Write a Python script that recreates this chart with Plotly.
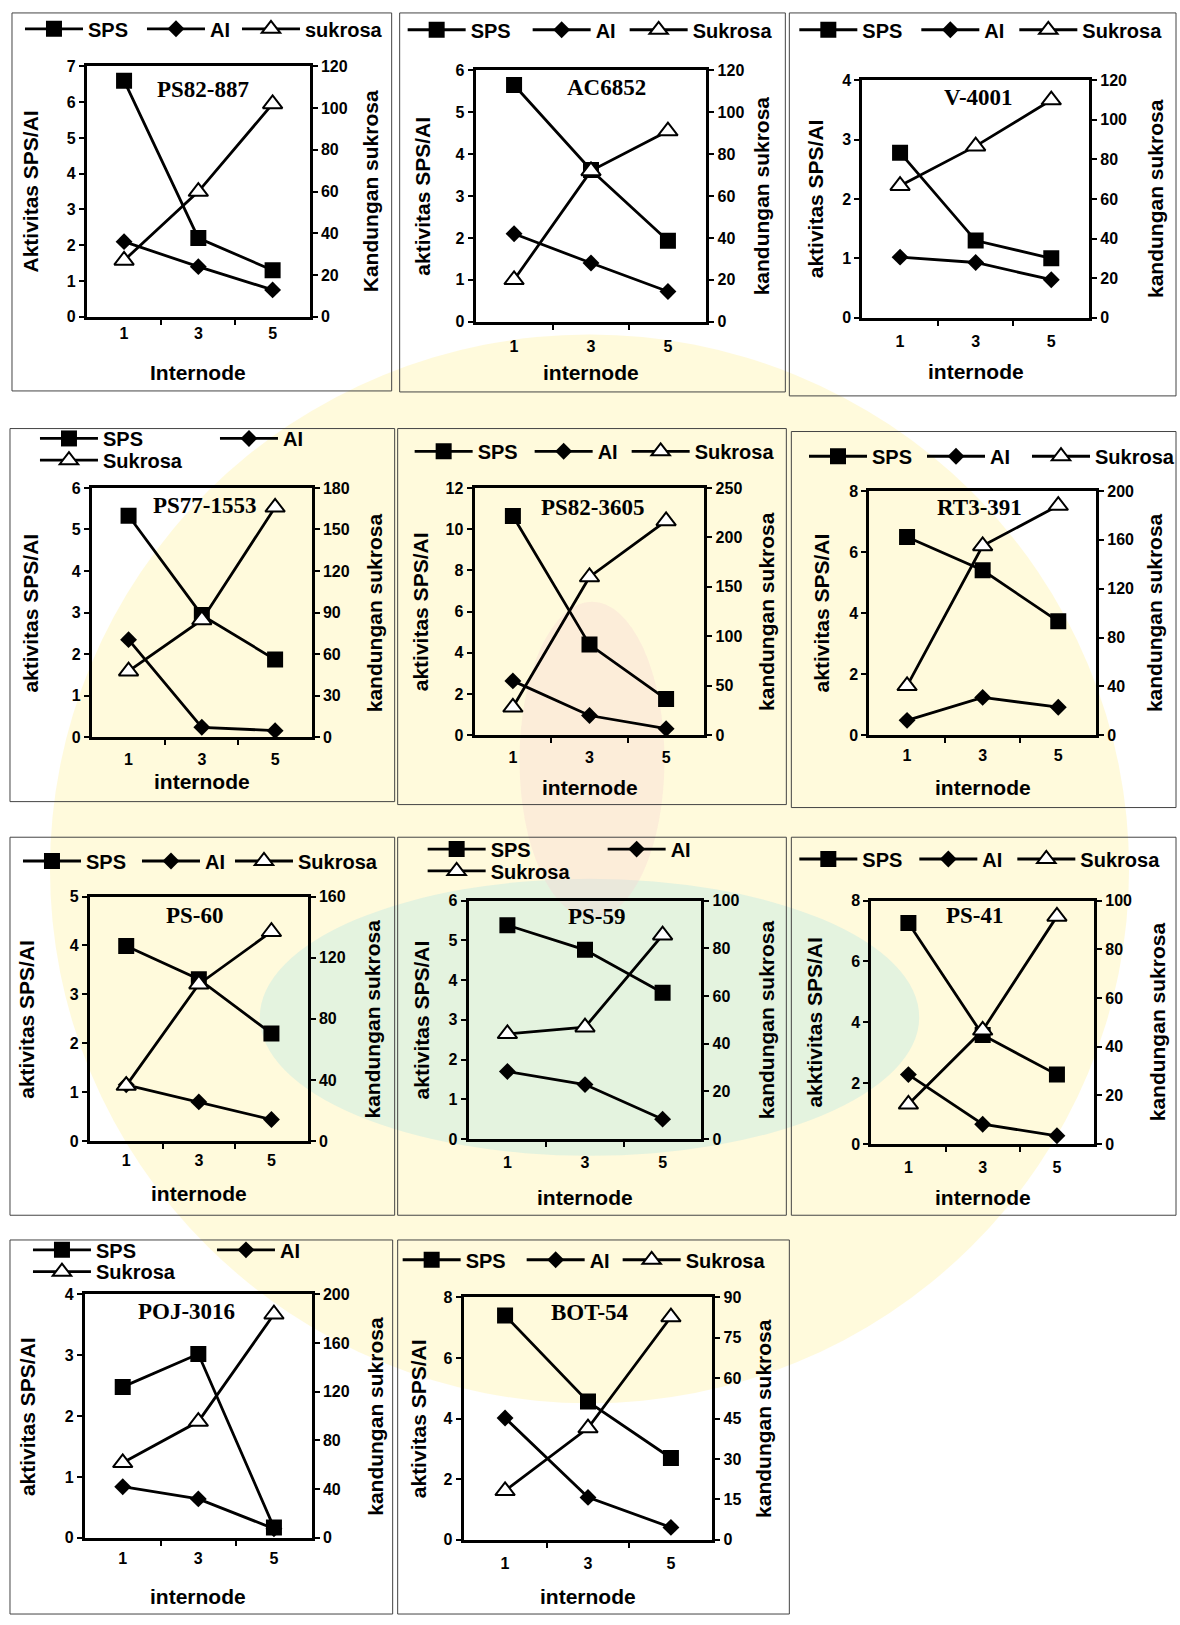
import plotly.graph_objects as go

# ---- data -------------------------------------------------------------
panel_names = ["PS82-887", "AC6852", "V-4001", "PS77-1553", "PS82-3605",
               "RT3-391", "PS-60", "PS-59", "PS-41", "POJ-3016", "BOT-54"]
internode = [1, 3, 5]
internode_labels = ["1", "3", "5"]

# SPS and AI activity (left axis), one list per variety
sps_values = [
    [6.6, 2.2, 1.3],
    [5.65, 3.62, 1.93],
    [2.78, 1.3, 1.0],
    [5.33, 2.94, 1.87],
    [10.64, 4.4, 1.76],
    [6.49, 5.4, 3.73],
    [3.99, 3.31, 2.2],
    [5.38, 4.76, 3.68],
    [7.26, 3.58, 2.28],
    [2.48, 3.02, 0.17],
    [7.4, 4.56, 2.7],
]
ai_values = [
    [2.1, 1.4, 0.75],
    [2.1, 1.4, 0.72],
    [1.02, 0.93, 0.64],
    [2.35, 0.24, 0.16],
    [2.64, 0.96, 0.32],
    [0.49, 1.24, 0.92],
    [1.15, 0.8, 0.44],
    [1.7, 1.37, 0.5],
    [2.28, 0.65, 0.27],
    [0.84, 0.64, 0.15],
    [4.02, 1.4, 0.41],
]
# sucrose content (right axis)
sukrosa_values = [
    [27, 60, 102],
    [20, 72, 91],
    [66.7, 86.7, 110],
    [47.7, 84.7, 166],
    [28.3, 160, 216.7],
    [40.5, 155, 188],
    [36.3, 102.7, 137],
    [44.1, 46.9, 85.5],
    [16.3, 46.7, 93.5],
    [61.6, 95.5, 183.7],
    [18.2, 41.5, 82.7],
]

left_max = [7, 6, 4, 6, 12, 8, 5, 6, 8, 4, 8]
left_dtick = [1, 1, 1, 1, 2, 2, 1, 1, 2, 1, 2]
right_max = [120, 120, 120, 180, 250, 200, 160, 100, 100, 200, 90]
right_dtick = [20, 20, 20, 30, 50, 40, 40, 20, 20, 40, 15]

left_titles = ["Aktivitas SPS/AI"] + ["aktivitas SPS/AI"] * 7 + \
              ["akktivitas SPS/AI"] + ["aktivitas SPS/AI"] * 2
right_titles = ["Kandungan sukrosa"] + ["kandungan sukrosa"] * 10
x_titles = ["Internode"] + ["internode"] * 10
sukrosa_names = ["sukrosa"] + ["Sukrosa"] * 10

# ---- page geometry (pixels) ------------------------------------------
W, H = 1180, 1625

plot_boxes = [(87, 59, 310, 312), (476, 63, 707, 317), (863, 73, 1090, 313),
              (92, 485, 312, 737), (475, 485, 705, 735), (870, 488, 1097, 735),
              (90, 898, 308, 1145), (469, 902, 702, 1143), (872, 902, 1095, 1148),
              (85, 1300, 312, 1546), (464, 1303, 713, 1548)]
frames = [(12, 5, 392, 387), (400, 5, 786, 388), (790, 5, 1177, 392),
          (10, 425, 395, 802), (398, 425, 787, 805), (792, 428, 1177, 808),
          (10, 838, 395, 1220), (398, 838, 787, 1220), (792, 838, 1177, 1220),
          (10, 1245, 393, 1623), (398, 1245, 790, 1623)]
# legend: first line start x, row centre y, SPS spacing, AI spacing, second-row y
legend_specs = [(25, 21, 122, 95, None), (408, 22, 125, 97, None), (800, 22, 122, 98, None),
                (40, 435, 180, None, 457), (415, 448, 120, 97, None), (810, 453, 118, 105, None),
                (23, 862, 119, 93, None), (428, 850, 180, None, 872), (800, 860, 120, 98, None),
                (33, 1255, 184, None, 1277), (403, 1265, 124, 96, None)]
title_pos = [(203, 82), (607, 80), (979, 90), (205, 503), (594, 505), (980, 505),
             (195, 917), (598, 918), (976, 917), (187, 1317), (590, 1318)]
left_title_dx = [-56, -54, -46, -61, -54, -48, -63, -47, -57, -58, -45]
right_title_dx = [61, 55, 67, 63, 62, 58, 65, 65, 63, 63, 51]
x_title_y = [368, 368, 367, 782, 788, 788, 1198, 1202, 1202, 1605, 1605]
tick_standoff = [0, 8, 7, 6, 5, 3, 3, 7, 7, 4, 7]


def px(xp):
    return xp / W


def py(yp):
    return 1 - yp / H


SANS = "Liberation Sans, Arial, sans-serif"
SERIF = "Liberation Serif, Times New Roman, serif"
tick_font = dict(family=SANS, size=16, color="black", weight="bold")
title_font = dict(family=SANS, size=21, color="black", weight="bold")
legend_font = dict(family=SANS, size=20, color="black", weight="bold")

fig = go.Figure()
layout = dict(width=W, height=H, margin=dict(l=0, r=0, t=0, b=0),
              paper_bgcolor="white", plot_bgcolor="rgba(0,0,0,0)",
              showlegend=True)
annotations = []
shapes = []

# faint university emblem behind the charts
shapes += [
    dict(type="circle", xref="paper", yref="paper", layer="below",
         x0=px(50), x1=px(1130), y0=py(330), y1=py(1410),
         fillcolor="rgba(255,246,185,0.5)", line=dict(width=0)),
    dict(type="circle", xref="paper", yref="paper", layer="below",
         x0=px(260), x1=px(920), y0=py(880), y1=py(1160),
         fillcolor="rgba(205,236,226,0.55)", line=dict(width=0)),
    dict(type="circle", xref="paper", yref="paper", layer="below",
         x0=px(520), x1=px(665), y0=py(600), y1=py(920),
         fillcolor="rgba(246,212,212,0.35)", line=dict(width=0)),
]


def label(text, x, y, font, angle=0):
    return dict(text=text, x=px(x), y=py(y), xref="paper", yref="paper",
                xanchor="center", yanchor="middle", textangle=angle,
                showarrow=False, font=font)


extra_legend = 12
for i in range(11):
    xa = "x" if i == 0 else f"x{i + 1}"
    yl = f"y{2 * i + 1}" if i else "y"
    yr = f"y{2 * i + 2}"
    xkey = "xaxis" if i == 0 else f"xaxis{i + 1}"
    ylkey = "yaxis" if i == 0 else f"yaxis{2 * i + 1}"
    yrkey = f"yaxis{2 * i + 2}"
    x0, y0, x1, y1 = plot_boxes[i]

    layout[xkey] = dict(
        domain=[px(x0), px(x1)], range=[0, 6], anchor=yl,
        tickmode="array", tickvals=internode, ticktext=internode_labels,
        ticks="", ticklabelstandoff=tick_standoff[i],
        minor=dict(tickvals=[2, 4], ticks="outside", ticklen=5,
                   tickwidth=2, tickcolor="black"),
        showline=True, mirror=True, linewidth=3, linecolor="black",
        showgrid=False, zeroline=False, tickfont=tick_font, fixedrange=True)
    layout[ylkey] = dict(
        domain=[py(y1), py(y0)], range=[0, left_max[i]], dtick=left_dtick[i],
        anchor=xa, ticks="outside", ticklen=5, tickwidth=2, tickcolor="black",
        showline=True, linewidth=3, linecolor="black",
        showgrid=False, zeroline=False, tickfont=tick_font, fixedrange=True)
    layout[yrkey] = dict(
        range=[0, right_max[i]], dtick=right_dtick[i], overlaying=yl,
        side="right", anchor=xa, ticks="outside", ticklen=5, tickwidth=2,
        tickcolor="black", showline=True, linewidth=3, linecolor="black",
        showgrid=False, zeroline=False, tickfont=tick_font, fixedrange=True)

    # legends
    ls, yc, sps_gap, ai_gap, row2 = legend_specs[i]
    lkey = "legend" if i == 0 else f"legend{i + 1}"
    base_legend = dict(xanchor="left", yanchor="middle", orientation="h",
                       font=legend_font, itemwidth=58, bgcolor="rgba(0,0,0,0)",
                       borderwidth=0, tracegroupgap=0, traceorder="normal")
    layout[lkey] = dict(base_legend, x=px(ls - 5), y=py(yc))
    if row2 is not None:
        skey = f"legend{extra_legend}"
        extra_legend += 1
        layout[skey] = dict(base_legend, x=px(ls - 5), y=py(row2))
    else:
        skey = lkey

    line = dict(color="black", width=2.8)
    fig.add_trace(go.Scatter(
        x=internode, y=sps_values[i], xaxis=xa, yaxis=yl, name="SPS",
        mode="lines+markers", line=line, legend=lkey,
        legendwidth=sps_gap - 73,
        marker=dict(symbol="square", size=16, color="black")))
    fig.add_trace(go.Scatter(
        x=internode, y=ai_values[i], xaxis=xa, yaxis=yl, name="AI",
        mode="lines+markers", line=line, legend=lkey,
        legendwidth=(ai_gap - 73) if ai_gap else None,
        marker=dict(symbol="diamond", size=13, color="black")))
    fig.add_trace(go.Scatter(
        x=internode, y=sukrosa_values[i], xaxis=xa, yaxis=yr,
        name=sukrosa_names[i], mode="lines+markers", line=line, legend=skey,
        marker=dict(symbol="triangle-up", size=17, color="white",
                    line=dict(color="black", width=2))))

    # variety name inside the plot area
    tx, ty = title_pos[i]
    annotations.append(label(panel_names[i], tx, ty,
                             dict(family=SERIF, size=23, color="black",
                                  weight="bold")))
    # axis titles
    yc_plot = (y0 + y1) / 2
    annotations.append(label(left_titles[i], x0 + left_title_dx[i], yc_plot,
                             title_font, -90))
    annotations.append(label(right_titles[i], x1 + right_title_dx[i], yc_plot,
                             title_font, -90))
    annotations.append(label(x_titles[i], (x0 + x1) / 2, x_title_y[i],
                             title_font))

    # panel frame
    fx0, fy0, fx1, fy1 = frames[i]
    shapes.append(dict(type="rect", xref="paper", yref="paper",
                       x0=px(fx0), x1=px(fx1), y0=py(fy1), y1=py(fy0),
                       line=dict(color="#444444", width=1)))

layout["annotations"] = annotations
layout["shapes"] = shapes
fig.update_layout(**layout)
fig.write_html("out.html")
